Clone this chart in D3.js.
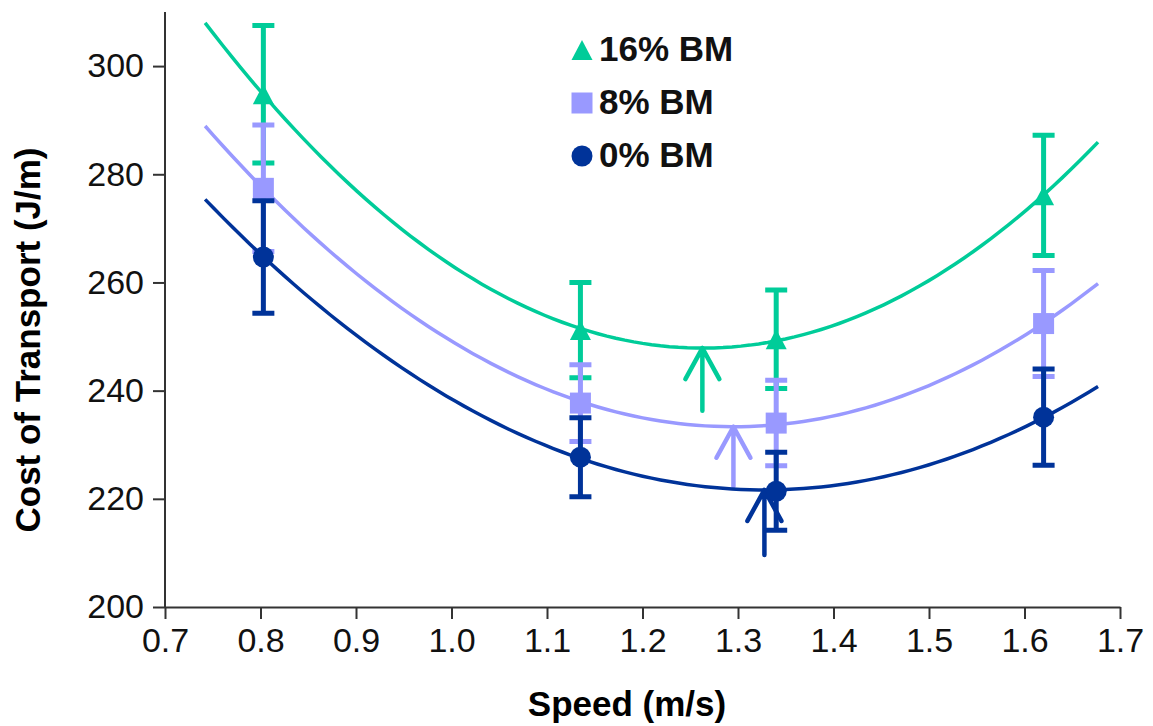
<!DOCTYPE html>
<html>
<head>
<meta charset="utf-8">
<script src="https://cdn.jsdelivr.net/npm/d3@7"></script>
<style>
  body { margin: 0; background: #fff; }
  text { font-family: "Liberation Sans", Arial, sans-serif; }
</style>
</head>
<body>
<div id="chart"></div>
<script>
// speeds (m/s) of the four conditions
var speeds = [0.803, 1.135, 1.34, 1.62];

// series, in drawing order (bottom to top)
var seriesNames = ["16% BM", "8% BM", "0% BM"];
var seriesColors = ["#00CC99", "#9999FF", "#003399"];
var seriesShapes = ["triangle", "square", "circle"];

// cost of transport (J/m)
var cot16 = [294.8, 251.2, 249.5, 276.1];
var cot8 = [277.4, 237.7, 234.0, 252.4];
var cot0 = [264.7, 227.7, 221.4, 235.1];

// error bar half-lengths (J/m)
var err16 = [12.7, 8.8, 9.1, 11.1];
var err8 = [11.7, 7.1, 7.9, 9.8];
var err0 = [10.4, 7.3, 7.2, 8.9];

// arrows marking the optimal speed: base of arrow shaft (J/m)
var arrowBase = [236.3, 222.3, 209.6];

var trendRange = [0.742, 1.677];
var xTicks = [0.7, 0.8, 0.9, 1.0, 1.1, 1.2, 1.3, 1.4, 1.5, 1.6, 1.7];
var yTicks = [200, 220, 240, 260, 280, 300];

var values = [cot16, cot8, cot0];
var errors = [err16, err8, err0];

var w = 1153, h = 726;
var svg = d3.select("#chart").append("svg")
    .attr("width", w)
    .attr("height", h);

var x = d3.scaleLinear().domain([0.7, 1.7]).range([165, 1120]);
var y = d3.scaleLinear().domain([200, 310]).range([607, 12]);

// least squares quadratic (same as the spreadsheet trendline)
function quadFit(xs, ys) {
  var n = xs.length, s = [0, 0, 0, 0, 0], t = [0, 0, 0];
  for (var i = 0; i < n; i++) {
    for (var k = 0; k < 5; k++) s[k] += Math.pow(xs[i], k);
    for (var k = 0; k < 3; k++) t[k] += ys[i] * Math.pow(xs[i], k);
  }
  var A = [[s[0], s[1], s[2], t[0]], [s[1], s[2], s[3], t[1]], [s[2], s[3], s[4], t[2]]];
  for (var c = 0; c < 3; c++) {
    for (var r = c + 1; r < 3; r++) {
      var f = A[r][c] / A[c][c];
      for (var k = c; k < 4; k++) A[r][k] -= f * A[c][k];
    }
  }
  var b = [0, 0, 0];
  for (var r = 2; r >= 0; r--) {
    var v = A[r][3];
    for (var k = r + 1; k < 3; k++) v -= A[r][k] * b[k];
    b[r] = v / A[r][r];
  }
  return b; // a0 + a1 x + a2 x^2
}

// axes
var xAxis = svg.append("g")
    .attr("transform", "translate(0," + y(200) + ")")
    .call(d3.axisBottom(x).tickValues(xTicks).tickFormat(d3.format(".1f")).tickSize(12).tickSizeOuter(0));
var yAxis = svg.append("g")
    .attr("transform", "translate(" + x(0.7) + ",0)")
    .call(d3.axisLeft(y).tickValues(yTicks).tickSize(12).tickSizeOuter(0));

[xAxis, yAxis].forEach(function(g) {
  g.select(".domain").attr("stroke", "#333").attr("stroke-width", 2);
  g.selectAll(".tick line").attr("stroke", "#333").attr("stroke-width", 2);
  g.selectAll(".tick text")
    .attr("fill", "#111")
    .style("font-size", "34px")
    .style("font-family", "'Liberation Sans', Arial, sans-serif");
});
// extend y domain line to top
yAxis.select(".domain").attr("d", "M0," + y(310) + "V" + y(200));
xAxis.selectAll(".tick text").attr("y", 21).attr("dy", "0.71em");
yAxis.selectAll(".tick text").attr("x", -21);

svg.append("text")
    .attr("x", 627).attr("y", 716)
    .attr("text-anchor", "middle")
    .style("font-size", "35px").style("font-weight", "bold")
    .text("Speed (m/s)");

svg.append("text")
    .attr("transform", "translate(40," + 340 + ") rotate(-90)")
    .attr("text-anchor", "middle")
    .style("font-size", "35px").style("font-weight", "bold")
    .text("Cost of Transport (J/m)");

var line = d3.line().x(function(d) { return x(d[0]); }).y(function(d) { return y(d[1]); });

function marker(g, shape, cx, cy, color, size) {
  if (shape === "square") {
    g.append("rect").attr("x", cx - size / 2).attr("y", cy - size / 2)
      .attr("width", size).attr("height", size).attr("fill", color);
  } else if (shape === "circle") {
    g.append("circle").attr("cx", cx).attr("cy", cy).attr("r", size / 2).attr("fill", color);
  } else {
    var hh = size * 0.95;
    g.append("path")
      .attr("d", "M" + cx + "," + (cy - hh / 2) + "L" + (cx + size / 2) + "," + (cy + hh / 2) +
                 "L" + (cx - size / 2) + "," + (cy + hh / 2) + "Z")
      .attr("fill", color);
  }
}

seriesNames.forEach(function(name, s) {
  var color = seriesColors[s];
  var g = svg.append("g");
  var coef = quadFit(speeds, values[s]);
  var f = function(v) { return coef[0] + coef[1] * v + coef[2] * v * v; };

  // trendline
  var pts = d3.range(0, 101).map(function(i) {
    var v = trendRange[0] + (trendRange[1] - trendRange[0]) * i / 100;
    return [v, f(v)];
  });
  g.append("path").attr("d", line(pts))
    .attr("fill", "none").attr("stroke", color).attr("stroke-width", 3.5);

  // arrow at the minimum of the trendline
  var vx = -coef[1] / (2 * coef[2]);
  var tipX = x(vx), tipY = y(f(vx));
  g.append("path")
    .attr("d", "M" + tipX + "," + y(arrowBase[s]) + "V" + tipY +
               "M" + (tipX - 17) + "," + (tipY + 31) + "L" + tipX + "," + tipY +
               "L" + (tipX + 17) + "," + (tipY + 31))
    .attr("fill", "none").attr("stroke", color).attr("stroke-width", 4.5)
    .attr("stroke-linecap", "round").attr("stroke-linejoin", "round");

  // error bars
  speeds.forEach(function(sp, i) {
    var px = x(sp), lo = y(values[s][i] - errors[s][i]), hi = y(values[s][i] + errors[s][i]);
    g.append("path")
      .attr("d", "M" + px + "," + lo + "V" + hi +
                 "M" + (px - 11) + "," + lo + "H" + (px + 11) +
                 "M" + (px - 11) + "," + hi + "H" + (px + 11))
      .attr("fill", "none").attr("stroke", color).attr("stroke-width", 5);
  });

  // markers
  speeds.forEach(function(sp, i) {
    marker(g, seriesShapes[s], x(sp), y(values[s][i]), color, 21);
  });

  // legend
  var ly = 50 + s * 53;
  marker(svg, seriesShapes[s], 582, ly, color, 21);
  svg.append("text")
    .attr("x", 599).attr("y", ly + 11)
    .style("font-size", "35px").style("font-weight", "bold")
    .attr("fill", "#111")
    .text(name);
});
</script>
</body>
</html>
